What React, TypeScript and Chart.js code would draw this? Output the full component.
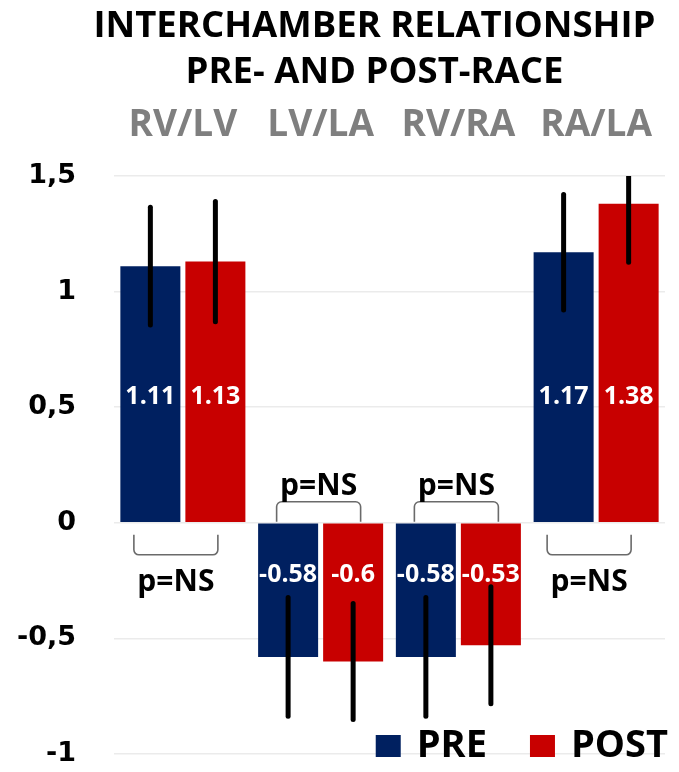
import React, { useEffect, useRef } from 'react';
import { Chart, registerables } from 'chart.js';

Chart.register(...registerables);

const categories = ['RV/LV', 'LV/LA', 'RV/RA', 'RA/LA'];
const seriesNames = ['PRE', 'POST'];
const preValues = [1.11, -0.58, -0.58, 1.17];
const postValues = [1.13, -0.6, -0.53, 1.38];
const preErrors = [0.255, 0.257, 0.257, 0.25];
const postErrors = [0.26, 0.251, 0.253, 0.253];
const significance = ['p=NS', 'p=NS', 'p=NS', 'p=NS'];
const titleLines = ['INTERCHAMBER RELATIONSHIP', 'PRE- AND POST-RACE'];
const yMin = -1;
const yMax = 1.5;
const yStep = 0.5;

const FONT = '"Open Sans", "DejaVu Sans", sans-serif';
const PRE_COLOR = '#002060';
const POST_COLOR = '#C80000';

const overlayPlugin = {
  id: 'overlay',
  afterDatasetsDraw(chart: any) {
    const { ctx, chartArea, scales } = chart;
    const x = scales.x;
    const y = scales.y;
    const y0 = y.getPixelForValue(0);

    // error bars
    ctx.save();
    ctx.beginPath();
    ctx.rect(chartArea.left, chartArea.top, chartArea.right - chartArea.left, chartArea.bottom - chartArea.top);
    ctx.clip();
    ctx.strokeStyle = '#000000';
    ctx.lineWidth = 5;
    ctx.lineCap = 'round';
    chart.data.datasets.forEach((ds: any, di: number) => {
      const meta = chart.getDatasetMeta(di);
      meta.data.forEach((bar: any, i: number) => {
        const v = ds.data[i];
        const e = ds.errors[i];
        ctx.beginPath();
        ctx.moveTo(bar.x, y.getPixelForValue(v - e));
        ctx.lineTo(bar.x, y.getPixelForValue(v + e));
        ctx.stroke();
      });
    });
    ctx.restore();

    // value labels
    ctx.save();
    ctx.fillStyle = '#ffffff';
    ctx.font = `bold 25px ${FONT}`;
    ctx.textAlign = 'center';
    ctx.textBaseline = 'middle';
    chart.data.datasets.forEach((ds: any, di: number) => {
      const meta = chart.getDatasetMeta(di);
      meta.data.forEach((bar: any, i: number) => {
        const v = ds.data[i];
        const ly = v >= 0 ? y.getPixelForValue(0.545) : y.getPixelForValue(-0.225);
        ctx.fillText(String(v), bar.x, ly);
      });
    });
    ctx.restore();

    // significance brackets
    ctx.save();
    ctx.strokeStyle = '#6a6a6a';
    ctx.lineWidth = 1.6;
    ctx.fillStyle = '#000000';
    ctx.font = `bold 30px ${FONT}`;
    ctx.textAlign = 'center';
    ctx.textBaseline = 'alphabetic';
    categories.forEach((_, i) => {
      const positive = (preValues[i] + postValues[i]) > 0;
      const cx = x.getPixelForValue(i) - (positive ? 7 : 2);
      const half = 42;
      const yEnd = positive ? y0 + 12 : y0 - 1;
      const yBar = positive ? y0 + 32 : y0 - 21;
      ctx.beginPath();
      ctx.moveTo(cx - half, yEnd);
      ctx.arcTo(cx - half, yBar, cx + half, yBar, 5);
      ctx.arcTo(cx + half, yBar, cx + half, yEnd, 5);
      ctx.lineTo(cx + half, yEnd);
      ctx.stroke();
      const ty = positive ? y0 + 68 : y0 - 28;
      ctx.fillText(significance[i], cx, ty);
    });
    ctx.restore();
  },
  afterDraw(chart: any) {
    const { ctx, chartArea } = chart;
    // title
    ctx.save();
    ctx.fillStyle = '#000000';
    ctx.font = `bold 36.5px ${FONT}`;
    ctx.textAlign = 'center';
    ctx.textBaseline = 'alphabetic';
    const tx = (chartArea.left + chartArea.right) / 2 - 15;
    ctx.fillText(titleLines[0], tx, 37);
    ctx.fillText(titleLines[1], tx, 83);
    ctx.restore();

    // legend
    ctx.save();
    ctx.font = `bold 38px ${FONT}`;
    ctx.textBaseline = 'alphabetic';
    ctx.textAlign = 'left';
    const base = chartArea.bottom + 3;
    const sq = 25;
    const gapText = 16;
    const gapItem = 43;
    const items = chart.data.datasets.map((ds: any) => ({ label: ds.label, color: ds.backgroundColor }));
    let total = 0;
    items.forEach((it: any, k: number) => {
      total += sq + gapText + ctx.measureText(it.label).width + (k < items.length - 1 ? gapItem : 0);
    });
    let lx = chartArea.right + 3 - total;
    items.forEach((it: any) => {
      ctx.fillStyle = it.color;
      ctx.fillRect(lx, base - 22, sq, 22);
      lx += sq + gapText;
      ctx.fillStyle = '#000000';
      ctx.fillText(it.label, lx, base);
      lx += ctx.measureText(it.label).width + gapItem;
    });
    ctx.restore();
  },
};

export default function App() {
  const canvasRef = useRef<HTMLCanvasElement | null>(null);

  useEffect(() => {
    document.body.style.margin = '0';
    const canvas = canvasRef.current;
    if (!canvas) return;
    const chart = new Chart(canvas, {
      type: 'bar',
      data: {
        labels: categories,
        datasets: [
          {
            label: seriesNames[0],
            data: preValues,
            errors: preErrors,
            backgroundColor: PRE_COLOR,
            categoryPercentage: 0.944,
            barPercentage: 0.923,
          } as any,
          {
            label: seriesNames[1],
            data: postValues,
            errors: postErrors,
            backgroundColor: POST_COLOR,
            categoryPercentage: 0.944,
            barPercentage: 0.923,
          } as any,
        ],
      },
      options: {
        responsive: false,
        animation: false,
        devicePixelRatio: 1,
        layout: { padding: { left: 0, right: 14, top: 0, bottom: 18 } },
        plugins: {
          legend: { display: false },
          title: { display: false },
          tooltip: { enabled: false },
        },
        scales: {
          x: {
            position: 'top',
            grid: { display: false, drawTicks: false },
            border: { display: false },
            ticks: {
              color: '#7f7f7f',
              font: { family: FONT, size: 37, weight: 'bold' },
              padding: 28,
              maxRotation: 0,
              autoSkip: false,
            },
            afterFit: (s: any) => {
              s.height = 176;
              s.paddingLeft = 0;
              s.paddingRight = 0;
            },
          },
          y: {
            min: yMin,
            max: yMax,
            grid: { color: '#ebebeb', lineWidth: 1.5, drawTicks: false },
            border: { display: false },
            ticks: {
              stepSize: yStep,
              color: '#000000',
              font: { family: '"DejaVu Sans", sans-serif', size: 27, weight: 'bold' },
              padding: 38,
              callback: (v: any) => String(v).replace('.', ','),
            },
            afterFit: (s: any) => {
              s.width = 114;
              s.paddingTop = 0;
              s.paddingBottom = 0;
            },
          },
        },
      } as any,
      plugins: [overlayPlugin],
    });
    return () => chart.destroy();
  }, []);

  return (
    <div style={{ width: 679, height: 772 }}>
      <canvas ref={canvasRef} width={679} height={772} style={{ display: 'block' }} />
    </div>
  );
}
